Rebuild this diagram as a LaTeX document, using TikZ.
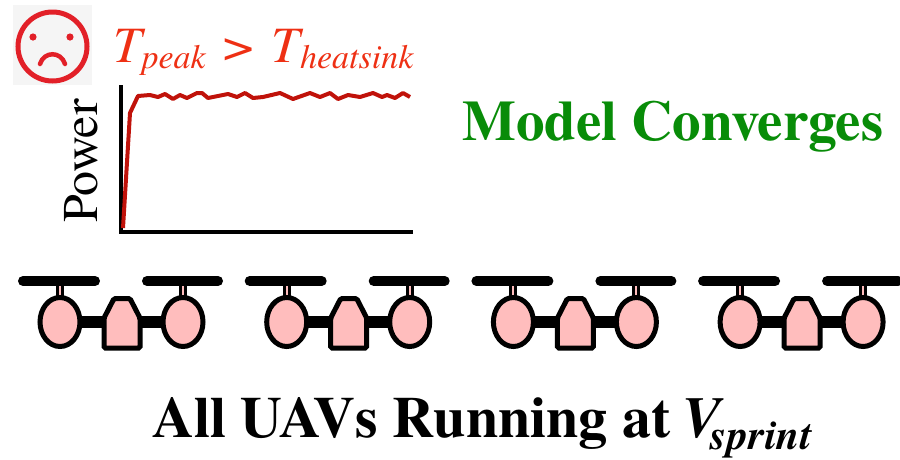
\documentclass[tikz,border=0pt]{standalone}
\usepackage{fontspec}
\setmainfont{texgyretermes}[Extension=.otf, UprightFont=*-regular, BoldFont=*-bold,
  ItalicFont=*-italic, BoldItalicFont=*-bolditalic]

\definecolor{sadred}{RGB}{226,32,40}
\definecolor{limitred}{RGB}{238,48,20}
\definecolor{curvered}{RGB}{192,18,10}
\definecolor{okgreen}{RGB}{8,140,8}
\definecolor{rotorpink}{RGB}{255,189,189}

% lowered subscript of its own size
\newcommand\lowsub[3]{\raisebox{-#1}{\fontsize{#2}{#2}\selectfont #3}}

\tikzset{
  arm/.style={line width=10pt, line cap=round},
  mast/.style={line width=8pt},
  motor/.style={draw, line width=5pt, fill=rotorpink},
}

\begin{document}
\begin{tikzpicture}[x=1pt,y=-1pt]
                        \useasboundingbox (0,0) rectangle (900,459);

                        % sad face
                        \fill[black!4] (13,5) rectangle (92,85);
                        \draw[sadred, line width=5pt] (52.5,46.5) circle (34.5);
                        \fill[sadred] (33,37) circle (3.6) (70,37) circle (3.6);
                        \draw[sadred, line width=4.5pt, line cap=round] (40,64) .. controls (44,51) and (61,51) .. (65,64);

                        \node[anchor=base west, inner sep=0, text=limitred] (limit) at (113,62)
                          {\fontsize{51}{51}\selectfont\itshape T\lowsub{6pt}{34pt}{peak}\hspace{3pt} > \hspace{3pt}T\lowsub{6pt}{34pt}{heatsink}};

                        % power over time
                        \draw[line width=3.5pt] (121,85) -- (121,232) -- (413,232);
                        \draw[curvered, line width=4pt, line join=round] (123,228) -- (130,113) -- (138,96)
                          -- (150,95) -- (158,97) -- (165,94) -- (173,99) -- (180,95) -- (187,98) -- (197,93)
                          -- (202,93) -- (208,98) -- (228,94) -- (237,97) -- (245,93) -- (253,98) -- (263,97)
                          -- (280,93) -- (293,99) -- (310,93) -- (320,97) -- (330,93) -- (338,99) -- (348,95)
                          -- (360,97) -- (373,93) -- (382,97) -- (387,95) -- (395,98) -- (403,93) -- (410,97);
                        \node[rotate=90, anchor=base, inner sep=0] (ylabel) at (97,161)
                          {\fontsize{50}{50}\selectfont Power};

                        \node[anchor=base west, inner sep=0, text=okgreen] (status) at (462,140)
                          {\fontsize{57}{57}\selectfont\bfseries Model Converges};

                        % the swarm
                        \foreach \i in {0,...,3} {
                          \begin{scope}[xshift=\i*226.7pt]
                            \draw[arm] (23,281) -- (95,281) (147,281) -- (218,281);
                            \draw[mast] (60,281) -- (60,300) (183,281) -- (183,300);
                            \draw[rotorpink, line width=2pt] (60,286) -- (60,300) (183,286) -- (183,300);
                            \draw[line width=12pt] (60,322) -- (183,322);
                            \draw[motor] (60,322) ellipse (20 and 24.5);
                            \draw[motor] (183,322) ellipse (20 and 24.5);
                            \draw[motor, rounded corners=1.5pt] (104,348) -- (104,318) -- (114,298.5)
                              -- (130,298.5) -- (140,318) -- (140,348) -- cycle;
                          \end{scope}
                        }

                        \node[anchor=base west, inner sep=0] (title) at (152,437)
                          {\fontsize{58}{58}\selectfont\bfseries All UAVs Running at\hspace{-3pt} \textit{V\kern-10pt\lowsub{12pt}{42pt}{sprint}}};
                    \end{tikzpicture}
\end{document}
